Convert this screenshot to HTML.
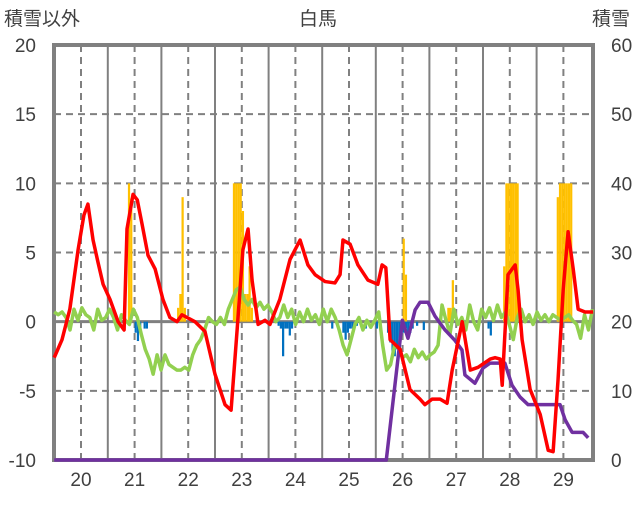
<!DOCTYPE html>
<html><head><meta charset="utf-8"><style>
body{margin:0;background:#fff;width:636px;height:501px;overflow:hidden;font-family:"Liberation Sans","Noto Sans CJK JP",sans-serif;}
svg text{font-family:"Liberation Sans","Noto Sans CJK JP",sans-serif;fill:#404040;}
</style></head><body>
<svg id="chart" width="636" height="501" xmlns="http://www.w3.org/2000/svg">
<text x="318" y="25" font-size="19" text-anchor="middle">白馬</text>
<text x="4" y="25" font-size="19">積雪以外</text>
<text x="592" y="25" font-size="19">積雪</text>
<g id="grid"></g><g id="bars"></g><g id="frame"></g><g id="lines"></g><g id="labels"></g>
</svg>
<script>
const dayLabels=["20","21","22","23","24","25","26","27","28","29"];
const leftTicks=[20,15,10,5,0,-5,-10];
const rightTicks=[60,50,40,30,20,10,0];
const tempHours=[0,3.5,7,10.7,13.3,15.1,17.4,19.6,21.9,25,28.6,31.3,32.6,35.3,37.2,39.4,42,45.2,48.7,51.8,55,57.2,63,67.5,72,76.5,79.2,81.9,84.5,86.8,88.6,91.3,94.4,96.6,101,105.6,110.1,113.6,116.8,121.3,125.7,128,129.3,132.5,136,140.5,144.9,146.8,148.5,150.4,154.9,159.3,163.8,166,169.2,172.8,175.9,178.2,182.7,186.3,189.8,195.2,197.4,199.7,200.6,203.2,206.4,207.7,209.5,213.1,217.6,221.2,223.4,225.6,227.9,230.1,232.4,234.6,237.7,241.3];
const tempValues=[-2.6,-1.3,0.9,5.2,7.7,8.5,5.9,4.3,2.7,1.6,0,-0.6,6.7,9.2,8.8,7.0,4.8,3.8,1.6,0.3,0,0.5,0,-0.7,-3.8,-6,-6.4,-0.6,5.2,6.7,3.0,-0.2,0.1,-0.2,1.6,4.5,5.9,4.1,3.4,2.9,2.8,3.4,5.9,5.6,4.1,3.0,2.7,4.1,3.9,-1.3,-2,-4.9,-5.6,-6,-5.6,-5.6,-5.9,-3.5,0,-3.5,-3.3,-2.7,-2.6,-2.7,-4.6,3.4,4.1,2.3,-1.3,-4.9,-6.7,-9.3,-9.4,-4.2,2.3,6.5,3.8,0.9,0.7,0.7];
const greenValues=[0.7,0.5,0.7,0.3,-0.6,0.9,0.1,1.0,0.5,0.3,-0.6,0.9,0.1,0.3,0.9,0.3,-0.6,0.5,0.1,-0.2,0.9,0.3,-0.9,-2.0,-2.7,-3.8,-2.4,-3.5,-2.4,-3.1,-3.3,-3.5,-3.5,-3.3,-3.5,-2.4,-1.7,-1.3,-0.6,0.3,0,-0.2,0.3,-0.2,0.9,1.6,2.3,2.5,1.6,1.2,1.6,1.0,1.4,0.9,1.2,0.7,0,0.3,1.2,0.3,0.9,-0.2,0.7,0,0.9,0.1,0.5,-0.2,0.9,0,0.9,0.3,-0.6,-1.7,-2.4,-1.3,-0.2,0.3,-0.6,0.1,-0.4,0.1,0.7,-1.7,-3.5,-3.1,-1.7,-1.9,-2.6,-2.4,-2.9,-2.0,-2.6,-2.2,-2.7,-2.4,-2.2,-1.7,1.2,0.1,-0.9,0.9,-0.2,0.3,-0.6,1.2,0,-0.6,0.9,0.3,1.0,0.1,1.2,0.3,0.7,-0.2,-1.3,0.3,0.9,0,0.5,-0.2,0.7,0.1,0.5,0,0.5,0.3,0.1,0.3,0.5,0.1,-0.2,-1.2,0.5,-0.6,0.9];
const snowHours=[0,148.7,155.9,158.4,161.6,163.8,167.4,170.5,175,179.4,182.6,183.9,188.4,192,195.1,201.8,205,208.6,212.2,226.5,228.8,231.9,236.8,239.1];
const snowDepth=[0,0,20.2,17.6,21.7,22.8,22.8,20.8,18.8,17.3,15.9,12.3,11.1,13.3,14.0,14.0,10.8,9.1,8.0,8.0,5.8,4.0,4.0,3.2];
const snowfallHours=[33,34,55,56,57,58,80,81,82,83,84,85,86,87,88,156,157,176,177,178,201,202,203,204,205,206,207,225,226,227,228,229,230,231];
const snowfallValues=[10,8.9,1,2,9,1,10,10,10,10,8,2,2,4,1,6,3.4,1,1,3,4,10,10,10,10,10,10,9,10,10,10,10,10,10];
const precipHours=[36,37,38,40,41,100,101,102,103,104,105,106,124,129,130,131,132,133,135,139,144,149,150,151,152,153,154,155,156,157,158,159,160,162,165,194,195];
const precipValues=[-0.8,-1.4,-0.5,-0.5,-0.5,-0.3,-0.5,-2.5,-0.5,-0.5,-1.0,-0.5,-0.5,-0.8,-1.3,-0.8,-0.5,-0.5,-0.3,-0.5,-0.5,-0.8,-1.5,-2.2,-2.5,-2.0,-1.5,-1.0,-0.8,-0.5,-1.0,-0.8,-0.5,-0.3,-0.6,-0.5,-1.0];

const NS="http://www.w3.org/2000/svg";
const X0=54.2,PX_H=53.6/24,TOP=45,BOT=460;
const xs=h=>X0+h*PX_H;
const yl=v=>TOP+(20-v)*(BOT-TOP)/30;
const yr=v=>BOT-v*(BOT-TOP)/60;
function mk(tag,attrs,parent){const e=document.createElementNS(NS,tag);for(const k in attrs)e.setAttribute(k,attrs[k]);document.getElementById(parent).appendChild(e);return e;}

[15,10,5,-5].forEach(v=>{const l=mk('line',{x1:54,x2:593,y1:yl(v),y2:yl(v),stroke:'#808080','stroke-width':2,'stroke-dasharray':'7,5'},'grid');

});
for(let d=0;d<10;d++){
 const ld=mk('line',{x1:xs(d*24+12),x2:xs(d*24+12),y1:TOP,y2:BOT,stroke:'#808080','stroke-width':2,'stroke-dasharray':'7,5'},'grid');
 
 
 if(d>0){const ls=mk('line',{x1:xs(d*24),x2:xs(d*24),y1:TOP,y2:BOT,stroke:'#808080','stroke-width':2},'grid');
 
 }
}
snowfallHours.forEach((h,i)=>{const r=mk('rect',{x:xs(h),y:yl(snowfallValues[i]),width:PX_H,height:yl(0)-yl(snowfallValues[i]),fill:'#FFC000'},'bars');

});
precipHours.forEach((h,i)=>{const r=mk('rect',{x:xs(h),y:yl(0),width:PX_H,height:yl(precipValues[i])-yl(0),fill:'#0070C0'},'bars');

});
const z=mk('line',{x1:54,x2:593,y1:yl(0),y2:yl(0),stroke:'#808080','stroke-width':3},'grid');


const f=mk('rect',{x:54,y:TOP,width:539,height:BOT-TOP,fill:'none',stroke:'#808080','stroke-width':4},'frame');


function line(hours,vals,yf,color,name){const p=mk('polyline',{points:hours.map((h,i)=>xs(h)+','+yf(vals[i])).join(' '),fill:'none',stroke:color,'stroke-width':3.5,'stroke-linejoin':'round'},'lines');

}
const gh=greenValues.map((v,i)=>i*241/(greenValues.length-1));
line(gh,greenValues,yl,'#92D050','humidity-line');
line(snowHours,snowDepth,yr,'#7030A0','snow-depth-line');
line(tempHours,tempValues,yl,'#FF0000','temperature-line');
leftTicks.forEach(v=>{const t=mk('text',{x:36,y:yl(v)+7,'font-size':19,'text-anchor':'end'},'labels');t.textContent=v;

});
rightTicks.forEach(v=>{const t=mk('text',{x:611,y:yr(v)+7,'font-size':19},'labels');t.textContent=v;

});
dayLabels.forEach((s,d)=>{const t=mk('text',{x:xs(d*24+12),y:486,'font-size':19,'text-anchor':'middle'},'labels');t.textContent=s;

});
</script>
</body></html>
